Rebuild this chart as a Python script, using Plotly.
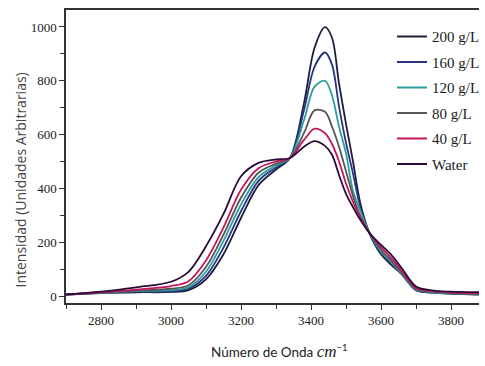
import plotly.graph_objects as go

wavenumber = [2700, 2800, 2900, 3000, 3050, 3100, 3150, 3200, 3250, 3300, 3340, 3380,
              3410, 3440, 3460, 3480, 3500, 3520, 3540, 3567, 3600, 3630, 3660, 3700,
              3750, 3800, 3880]

labels = ["200 g/L", "160 g/L", "120 g/L", "80 g/L", "40 g/L", "Water"]

i_200 = [5, 11, 14, 15, 22, 62, 155, 290, 412, 470, 513, 717, 922, 999, 960, 790, 640, 500, 350, 234, 155, 115, 80, 22, 13, 9, 5]
i_160 = [5, 12, 16, 18, 27, 75, 180, 315, 428, 478, 513, 691, 852, 905, 860, 705, 570, 455, 335, 234, 160, 120, 80, 22, 13, 9, 6]
i_120 = [5, 12, 18, 22, 32, 90, 205, 340, 442, 485, 513, 654, 778, 800, 745, 630, 530, 390, 320, 234, 166, 124, 82, 24, 14, 10, 7]
i_80 = [5, 13, 20, 27, 40, 108, 228, 365, 458, 492, 513, 606, 690, 685, 630, 555, 464, 372, 300, 234, 172, 130, 86, 27, 16, 11, 8]
i_40 = [5, 14, 24, 37, 55, 132, 255, 395, 475, 500, 513, 580, 622, 605, 565, 501, 418, 350, 295, 234, 182, 140, 92, 30, 18, 13, 11]
i_water = [6, 16, 32, 53, 90, 185, 305, 445, 495, 508, 513, 555, 576, 558, 525, 450, 380, 330, 285, 234, 190, 152, 102, 35, 20, 16, 14]

series = [i_200, i_160, i_120, i_80, i_40, i_water]
colors = ["#1e1e3c", "#283382", "#2a9e9e", "#555555", "#c2175c", "#2c0b3a"]

x_ticks = [2800, 3000, 3200, 3400, 3600, 3800]
y_ticks = [0, 200, 400, 600, 800, 1000]

fig = go.Figure()
for name, ys, c in zip(labels, series, colors):
    fig.add_trace(go.Scatter(
        x=wavenumber, y=ys, mode="lines", name=name, legendgroup=name,
        line=dict(color=c, width=1.8, shape="spline", smoothing=0.9),
    ))

serif = "Liberation Serif, Times New Roman, serif"
fig.update_layout(
    width=485, height=366,
    margin=dict(l=66, r=0, t=10, b=63),
    paper_bgcolor="white", plot_bgcolor="white",
    showlegend=True,
    legend=dict(
        x=0.79, y=0.965, xanchor="left", yanchor="top",
        font=dict(family=serif, size=15, color="#1a1a1a"),
        bgcolor="rgba(0,0,0,0)", tracegroupgap=3, itemwidth=30,
    ),
    xaxis=dict(
        range=[2700, 3880], tickvals=x_ticks, ticktext=[str(v) for v in x_ticks],
        showgrid=False, zeroline=False,
        showline=True, linecolor="#333333", linewidth=1.5, mirror=True,
        ticks="outside", ticklen=5, tickcolor="#333333", tickwidth=1,
        minor=dict(dtick=100, ticks="outside", ticklen=4, tickcolor="#333333", showgrid=False),
        tickfont=dict(family=serif, size=13, color="#1a1a1a"),
    ),
    yaxis=dict(
        range=[-26, 1063], tickvals=y_ticks, ticktext=[str(v) for v in y_ticks],
        showgrid=False, zeroline=False,
        showline=True, linecolor="#333333", linewidth=1.5, mirror=False,
        ticks="outside", ticklen=5, tickcolor="#333333", tickwidth=1,
        minor=dict(dtick=100, ticks="outside", ticklen=4, tickcolor="#333333", showgrid=False),
        tickfont=dict(family=serif, size=13, color="#1a1a1a"),
    ),
)

fig.add_annotation(
    text="Intensidad (Unidades Arbitrarias)", textangle=-90,
    xref="paper", yref="paper", x=-0.11, y=0.42, xanchor="center", yanchor="middle",
    showarrow=False, font=dict(family="Open Sans", size=14, color="#444444"),
)
fig.add_annotation(
    text="Número de Onda <i><span style='font-family:Liberation Serif;font-size:17px'>cm</span></i><sup>−1</sup>",
    xref="paper", yref="paper", x=0.518, y=-0.167, xanchor="center", yanchor="middle",
    showarrow=False, font=dict(family="Lato", size=13.5, color="#222222"),
)

fig.write_html("out.html")
